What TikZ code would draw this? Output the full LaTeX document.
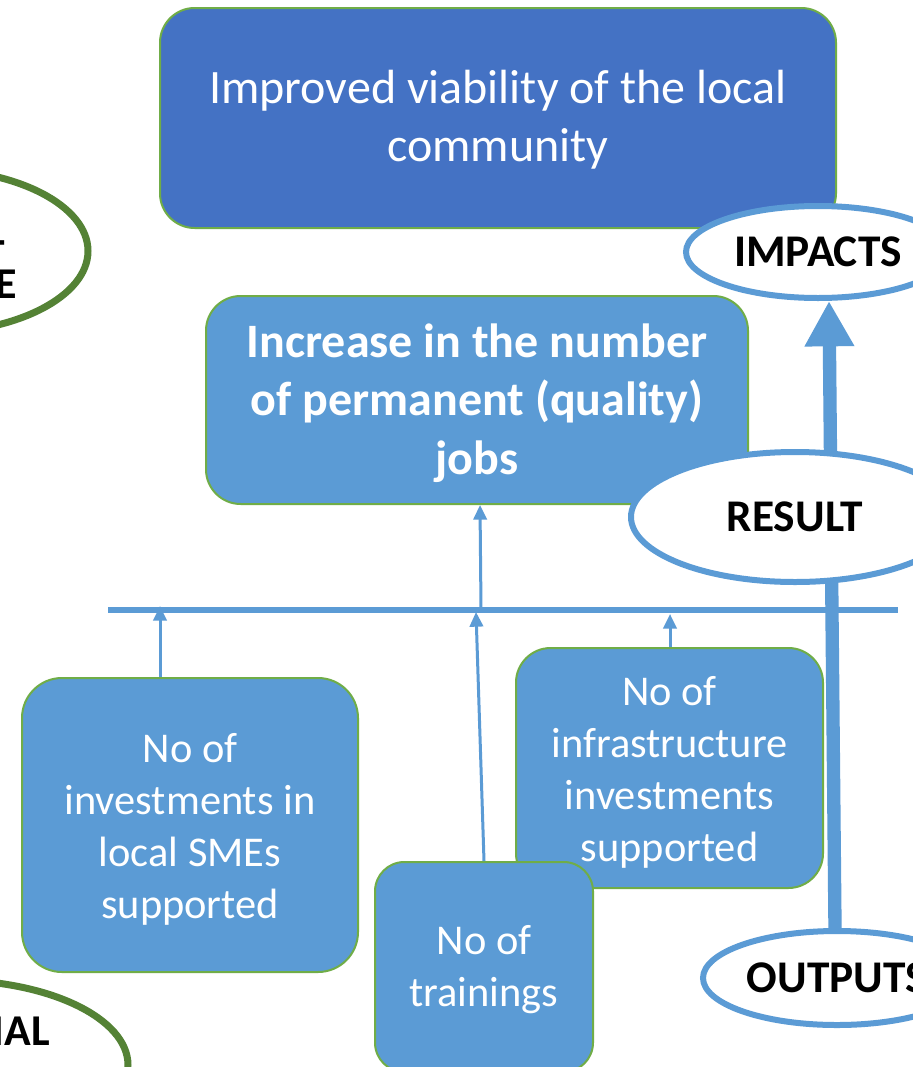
\documentclass[tikz,border=0pt]{standalone}
\usepackage{fontspec}
\setmainfont{Carlito}
\usetikzlibrary{shapes.geometric,arrows.meta,calc}
\definecolor{darkblue}{HTML}{4472C4}
\definecolor{lightblue}{HTML}{5B9BD5}
\definecolor{boxgreen}{HTML}{70AD47}
\definecolor{ellgreen}{HTML}{548235}
\tikzset{
  box/.style={draw=boxgreen,line width=1.5pt,rounded corners=26pt,fill=lightblue,inner sep=0pt},
  boxtext/.style={text=white,align=center,inner sep=0pt},
  bigtext/.style={font=\fontsize{36}{43.5}\selectfont},
  boldtext/.style={font=\fontsize{36}{44}\selectfont\bfseries},
  smalltext/.style={font=\fontsize{31.8}{39}\selectfont},
  label ell/.style={ellipse,draw=lightblue,line width=4.5pt,fill=white,inner sep=0pt,font=\fontsize{34}{40}\selectfont\bfseries},
  green ell/.style={ellipse,draw=ellgreen,line width=5.25pt,fill=white,inner sep=0pt},
  thin arrow/.style={draw=lightblue,line width=2.25pt,-{Triangle[length=11pt,width=10pt]}},
  thick arrow/.style={draw=lightblue,line width=10pt,-{Triangle[length=34pt,width=35pt]}},
  bus/.style={draw=lightblue,line width=4.5pt},
  side text/.style={font=\fontsize{33}{40}\selectfont\bfseries,inner sep=0pt}
}
\begin{document}
\begin{tikzpicture}[x=0.75pt,y=-0.75pt]
\useasboundingbox (0,0) rectangle (913,1067);
\clip (0,0) rectangle (913,1067);
\fill[white] (0,0) rectangle (913,1067);

% left green ellipses (mostly outside)
\node[green ell,minimum width=238.5pt,minimum height=123pt] (ellA) at (-71,251) {};
\node[side text,anchor=base east] (tA) at (6,255) {-};
\node[side text,anchor=base east] (tB) at (17,298) {E};
\node[green ell,minimum width=267pt,minimum height=127.5pt] (ellB) at (-50,1065) {};
\node[side text,anchor=base east] (tC) at (50,1045) {IAL};

% main boxes
\node[box,fill=darkblue,minimum width=507pt,minimum height=165pt] (impactbox) at (498,118) {};
\node[boxtext,bigtext] (impactbox-t) at ($(impactbox.center)+(0,2)$)
  {Improved viability of the local\\community};
\node[box,minimum width=406.5pt,minimum height=156pt] (resultbox) at (477,400) {};
\node[boxtext,boldtext] (resultbox-t) at ($(resultbox.center)+(0,3)$)
  {Increase in the number\\of permanent (quality)\\jobs};

% bus line
\coordinate (busL) at (108,610);
\coordinate (busR) at (898,610);
\draw[bus] (busL) -- (busR);
\coordinate (b1) at (160,606);
\coordinate (b2) at (476,612);
\coordinate (b3) at (481,608);
\coordinate (b4) at (670,614);

% output boxes
\node[box,rounded corners=30pt,minimum width=252pt,minimum height=220.5pt] (smes) at (190,825) {};
\node[boxtext,smalltext] (smes-t) at ($(smes.center)+(0,4)$)
  {No of\\investments in\\local SMEs\\supported};
\node[box,minimum width=230.25pt,minimum height=180pt] (infra) at (669.5,768) {};
\node[boxtext,smalltext] (infra-t) at ($(infra.center)+(0,4)$)
  {No of\\infrastructure\\investments\\supported};
\node[box,rounded corners=22pt,minimum width=163.5pt,minimum height=157.5pt] (train) at (484,967) {};
\node[boxtext,smalltext] (train-t) at ($(train.center)+(0,3)$)
  {No of\\trainings};

% thin arrows
\draw[thin arrow] (smes.north -| b1) -- (b1);
\draw[thin arrow] (train.north) -- (b2);
\draw[thin arrow] (infra.north -| b4) -- (b4);
\draw[thin arrow] (b3) -- (resultbox.south -| 480,0);

% level ellipses
\node[label ell,minimum width=201pt,minimum height=70.5pt] (outputs) at (837,978) {OUTPUTS};
\node[label ell,minimum width=198pt,minimum height=69pt] (impacts) at (818,252) {IMPACTS};
\draw[thick arrow] (outputs.north -| 835,0) -- ($(impacts.south)+(11,0)$);
\node[label ell,minimum width=246pt,minimum height=97.5pt] (result) at (795,517) {RESULT};
\end{tikzpicture}
\end{document}
